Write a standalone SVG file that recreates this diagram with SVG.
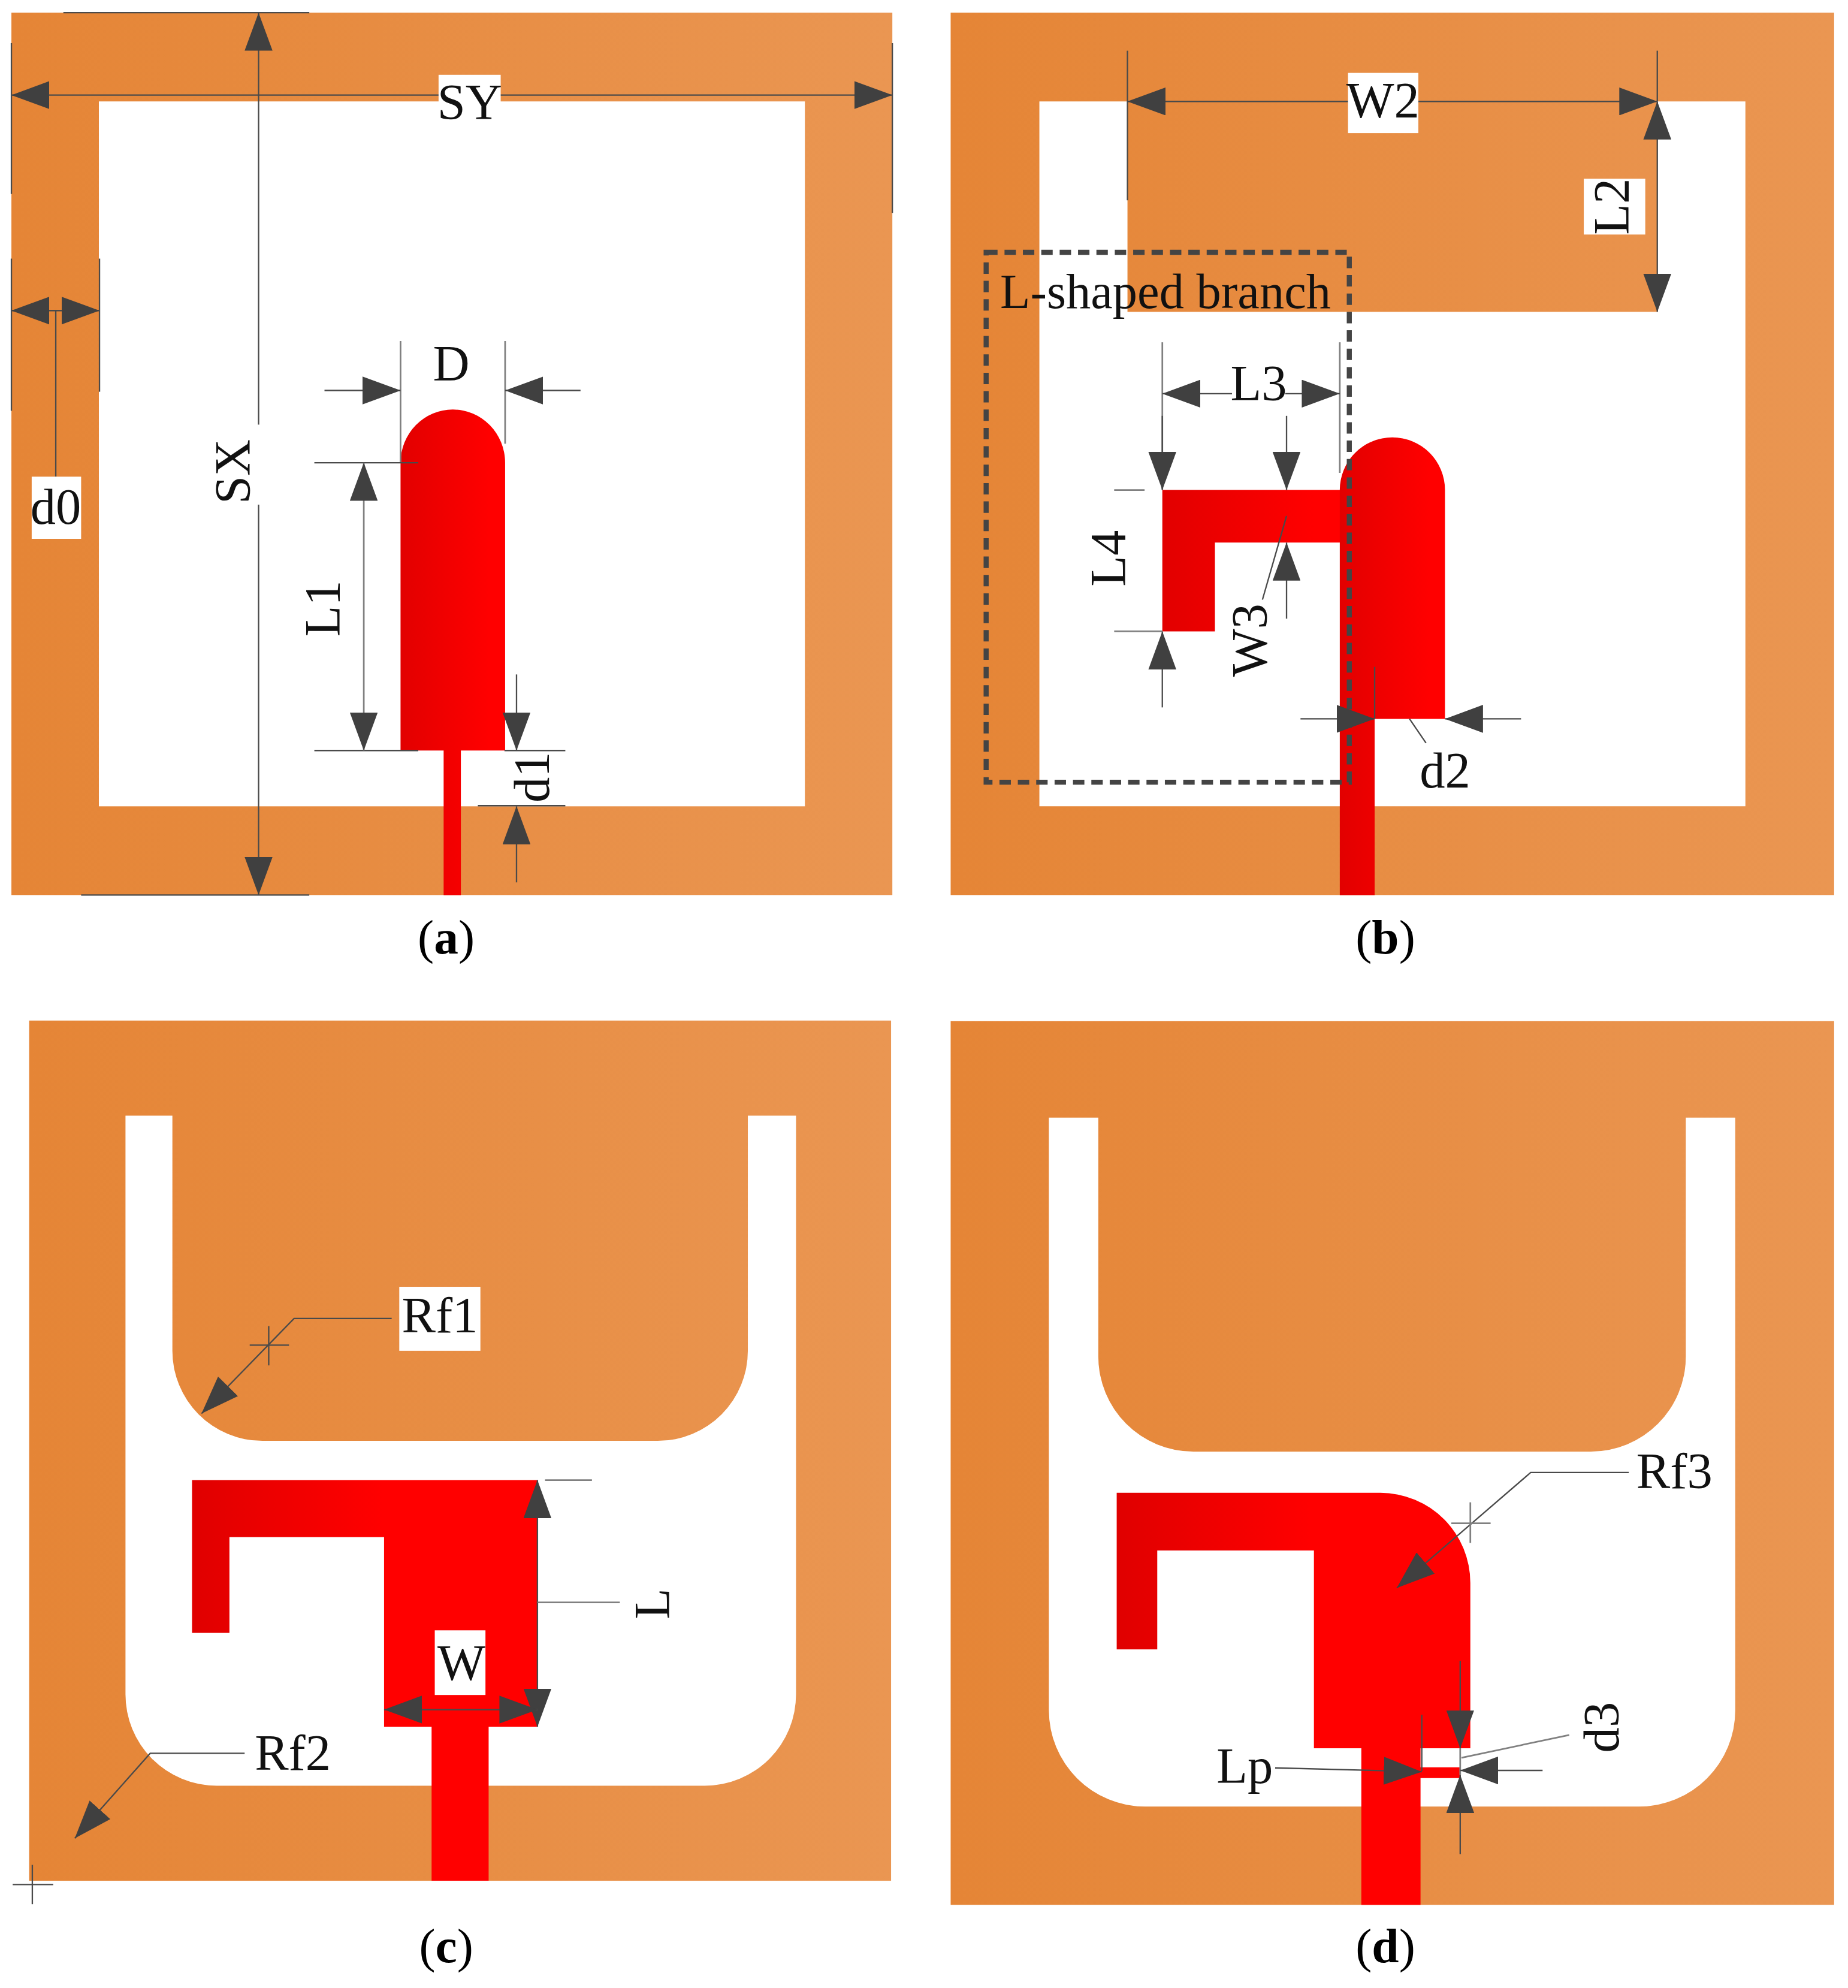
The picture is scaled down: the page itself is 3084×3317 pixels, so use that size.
<svg xmlns="http://www.w3.org/2000/svg" width="3084" height="3317" viewBox="0 0 3084 3317">
<style>
.t{font-family:"Liberation Serif","Times New Roman",serif;font-size:40px;fill:#111;text-anchor:middle}
.c{font-size:38.5px;fill:#000}
.b{font-weight:bold}
.w{fill:#fff}
.o{fill:url(#og)}
.r{fill:url(#rg)}
.ra{fill:url(#rga)}
.d{stroke:#4a4a4a;stroke-width:1.1;fill:none}
.e{stroke:#808080;stroke-width:1.3;fill:none}
.a{marker-end:url(#ah)}
.aa{marker-start:url(#ah);marker-end:url(#ah)}
.dash{fill:none;stroke:#444;stroke-width:4;stroke-dasharray:9 5.5}
</style>
<defs>
<linearGradient id="og" x1="0" x2="1" y1="0" y2="0"><stop offset="0" stop-color="#E58536"/><stop offset="1" stop-color="#EA9652"/></linearGradient>
<linearGradient id="rg" x1="0" x2="1" y1="0" y2="0"><stop offset="0" stop-color="#E00000"/><stop offset="0.55" stop-color="#FF0000"/><stop offset="1" stop-color="#FF0000"/></linearGradient>
<linearGradient id="rga" x1="0" x2="1" y1="0" y2="0"><stop offset="0" stop-color="#E20000"/><stop offset="0.85" stop-color="#FF0000"/></linearGradient>
<marker id="ah" viewBox="0 0 30 22" refX="30" refY="11" markerWidth="30" markerHeight="22" markerUnits="userSpaceOnUse" orient="auto-start-reverse"><path d="M0,0L30,11L0,22Z" fill="#404040"/></marker>
</defs>
<rect class="w" width="3084" height="3317"/>
<g transform="scale(2.1153)">
<g id="panel-a">
<rect class="o" x="9" y="10" width="695" height="696"/>
<rect class="w" x="78" y="80" width="557" height="556"/>
<path class="ra" d="M316,365A41.25,42 0 0 1 398.5,365V592H363.6V706H350V592H316Z"/>
</g>
<g id="panel-b">
<rect class="o" x="750" y="10" width="697" height="696"/>
<path class="w" d="M820,80H889.5V246H1307.5V80H1377V636H820Z"/>
<path class="ra" d="M917,386.5H1058V428H958.5V498H917Z"/>
<path class="ra" d="M1057,386.5A41.5,41.5 0 0 1 1140,386.5V567H1084.5V706H1057Z"/>
<rect class="dash" x="778" y="199" width="286.5" height="418"/>
</g>
<g id="panel-c">
<rect class="o" x="23" y="805" width="680" height="678.5"/>
<path class="w" d="M99,880H136V1065A71,71 0 0 0 207,1136.5H519A71,71 0 0 0 590,1065V880H628V1336A72,72 0 0 1 556,1408.5H171A72,72 0 0 1 99,1336Z"/>
<path class="r" d="M151.5,1167.5H424V1362H385.5V1483.5H340.5V1362H303V1212.5H181V1288H151.5Z"/>
</g>
<g id="panel-d">
<rect class="o" x="750" y="805.5" width="697" height="697"/>
<path class="w" d="M827.5,881.5H866.5V1070A75,75 0 0 0 941.5,1145H1255A75,75 0 0 0 1330,1070V881.5H1369V1349A76,76 0 0 1 1293,1425H903.5A76,76 0 0 1 827.5,1349Z"/>
<path class="r" d="M881,1177.5H1089A71,71 0 0 1 1160,1248.5V1379H1120.7V1394H1152V1402.5H1120.7V1502.5H1074V1379H1036.6V1223H913V1301H881Z"/>
</g>
<g id="connectors">
<line class="d aa" x1="9" y1="75" x2="704" y2="75"/>
<line class="d" x1="9" y1="34" x2="9" y2="153"/>
<line class="d" x1="704" y1="34" x2="704" y2="168"/>
<line class="d a" x1="204" y1="335" x2="204" y2="10"/>
<line class="d a" x1="204" y1="398" x2="204" y2="706"/>
<line class="d" x1="50" y1="10" x2="244" y2="10"/>
<line class="d" x1="64" y1="706" x2="244" y2="706"/>
<line class="d" x1="9" y1="204" x2="9" y2="324"/>
<line class="d" x1="78.5" y1="204" x2="78.5" y2="309"/>
<line class="d aa" x1="9" y1="245" x2="78.5" y2="245"/>
<line class="d" x1="44" y1="245" x2="44" y2="376"/>
<line class="e" x1="316" y1="269" x2="316" y2="365"/>
<line class="e" x1="398.5" y1="269" x2="398.5" y2="350"/>
<line class="d a" x1="256" y1="308" x2="316" y2="308"/>
<line class="d a" x1="458" y1="308" x2="398.5" y2="308"/>
<line class="d" x1="248" y1="365" x2="330" y2="365"/>
<line class="d" x1="248" y1="592" x2="330" y2="592"/>
<line class="e aa" x1="287" y1="365" x2="287" y2="592"/>
<line class="d" x1="398" y1="592" x2="446" y2="592"/>
<line class="d" x1="377" y1="635.5" x2="446" y2="635.5"/>
<line class="d a" x1="407.5" y1="532" x2="407.5" y2="592"/>
<line class="d a" x1="407.5" y1="696" x2="407.5" y2="636"/>
<line class="d" x1="889.5" y1="40" x2="889.5" y2="158"/>
<line class="d" x1="1307.5" y1="40" x2="1307.5" y2="80"/>
<line class="d aa" x1="889.5" y1="80" x2="1307.5" y2="80"/>
<line class="d aa" x1="1307.5" y1="80" x2="1307.5" y2="246"/>
<line class="e" x1="917" y1="270" x2="917" y2="386"/>
<line class="e" x1="1057" y1="270" x2="1057" y2="373"/>
<line class="d a" x1="972" y1="310.5" x2="917" y2="310.5"/>
<line class="d a" x1="1014" y1="310.5" x2="1057" y2="310.5"/>
<line class="d a" x1="917" y1="328" x2="917" y2="386.5"/>
<line class="d a" x1="917" y1="558" x2="917" y2="498"/>
<line class="e" x1="879" y1="386.5" x2="903" y2="386.5"/>
<line class="e" x1="879" y1="498" x2="917" y2="498"/>
<line class="d a" x1="1015" y1="328" x2="1015" y2="386.5"/>
<line class="d a" x1="1015" y1="488" x2="1015" y2="428"/>
<line class="d" x1="1015" y1="407" x2="996" y2="473"/>
<line class="d a" x1="1026" y1="567" x2="1084.5" y2="567"/>
<line class="d a" x1="1200" y1="567" x2="1140" y2="567"/>
<line class="d" x1="1084.5" y1="526" x2="1084.5" y2="567"/>
<line class="d" x1="1112" y1="567" x2="1125" y2="586"/>
<polyline class="d a" points="309,1040 232,1040 159,1115"/>
<line class="d" x1="197" y1="1061" x2="228" y2="1061"/>
<line class="d" x1="212" y1="1046" x2="212" y2="1077"/>
<polyline class="d a" points="193,1383 118.5,1383 59,1450"/>
<line class="d" x1="10" y1="1486.5" x2="42" y2="1486.5"/>
<line class="d" x1="25.5" y1="1471" x2="25.5" y2="1502"/>
<line class="d aa" x1="424" y1="1167.5" x2="424" y2="1362"/>
<line class="e" x1="430" y1="1167.5" x2="467" y2="1167.5"/>
<line class="e" x1="424" y1="1264" x2="489" y2="1264"/>
<line class="d aa" x1="303" y1="1348.5" x2="424" y2="1348.5"/>
<polyline class="d a" points="1285,1161.5 1207.6,1161.5 1102,1252.5"/>
<line class="e" x1="1145" y1="1201.5" x2="1176" y2="1201.5"/>
<line class="e" x1="1160" y1="1185" x2="1160" y2="1217"/>
<line class="d a" x1="1152" y1="1310" x2="1152" y2="1379"/>
<line class="d a" x1="1152" y1="1462.5" x2="1152" y2="1400"/>
<line class="e" x1="1152" y1="1379" x2="1152" y2="1400"/>
<line class="d a" x1="1217" y1="1396.5" x2="1152" y2="1396.5"/>
<line class="d a" x1="1006" y1="1394.5" x2="1121.7" y2="1397.5"/>
<line class="d" x1="1121.7" y1="1352.5" x2="1121.7" y2="1397"/>
<line class="e" x1="1238" y1="1368.5" x2="1153" y2="1386.5"/>
</g>
<g id="labels">
<g id="label-SY"><rect class="w" x="346" y="59" width="49" height="38"/><text class="t" x="370.5" y="94">SY</text></g>
<g id="label-SX"><rect class="w" x="165" y="335" width="42" height="63"/><text class="t" transform="translate(197 372) rotate(-90)">SX</text></g>
<g id="label-d0"><rect class="w" x="25" y="376" width="39" height="49"/><text class="t" x="44" y="413">d0</text></g>
<text id="label-D" class="t" x="356" y="300">D</text>
<text id="label-L1" class="t" transform="translate(268 480) rotate(-90)">L1</text>
<text id="label-d1" class="t" transform="translate(433 613) rotate(-90)">d1</text>
<text id="caption-a" class="t c" x="352" y="752">(<tspan class="b">a</tspan>)</text>
<g id="label-W2"><rect class="w" x="1063.5" y="57.5" width="55.5" height="47.5"/><text class="t" x="1091" y="92.6">W2</text></g>
<g id="label-L2"><rect class="w" x="1249.5" y="141" width="48.5" height="44"/><text class="t" transform="translate(1285 163) rotate(-90)">L2</text></g>
<text id="label-branch" class="t" x="919.5" y="243" style="font-size:39px">L-shaped branch</text>
<g id="label-L3"><rect class="w" x="972" y="290" width="42" height="35"/><text class="t" x="993" y="316">L3</text></g>
<text id="label-L4" class="t" transform="translate(888 440.5) rotate(-90)">L4</text>
<text id="label-W3" class="t" transform="translate(999.5 505) rotate(-90)">W3</text>
<text id="label-d2" class="t" x="1140" y="621">d2</text>
<text id="caption-b" class="t c" x="1093" y="752">(<tspan class="b">b</tspan>)</text>
<g id="label-Rf1"><rect class="w" x="315" y="1015" width="64" height="50.5"/><text class="t" x="347" y="1051">Rf1</text></g>
<text id="label-Rf2" class="t" x="231" y="1396">Rf2</text>
<text id="label-L" class="t" transform="translate(528 1265) rotate(-90)">L</text>
<g id="label-W"><rect class="w" x="343" y="1286" width="40" height="51"/><text class="t" x="364" y="1325">W</text></g>
<text id="caption-c" class="t c" x="352" y="1548">(<tspan class="b">c</tspan>)</text>
<text id="label-Rf3" class="t" x="1321" y="1174">Rf3</text>
<text id="label-d3" class="t" transform="translate(1277 1362.5) rotate(-90)">d3</text>
<text id="label-Lp" class="t" x="982" y="1406.5">Lp</text>
<text id="caption-d" class="t c" x="1093" y="1548">(<tspan class="b">d</tspan>)</text>
</g>
</g>
</svg>
